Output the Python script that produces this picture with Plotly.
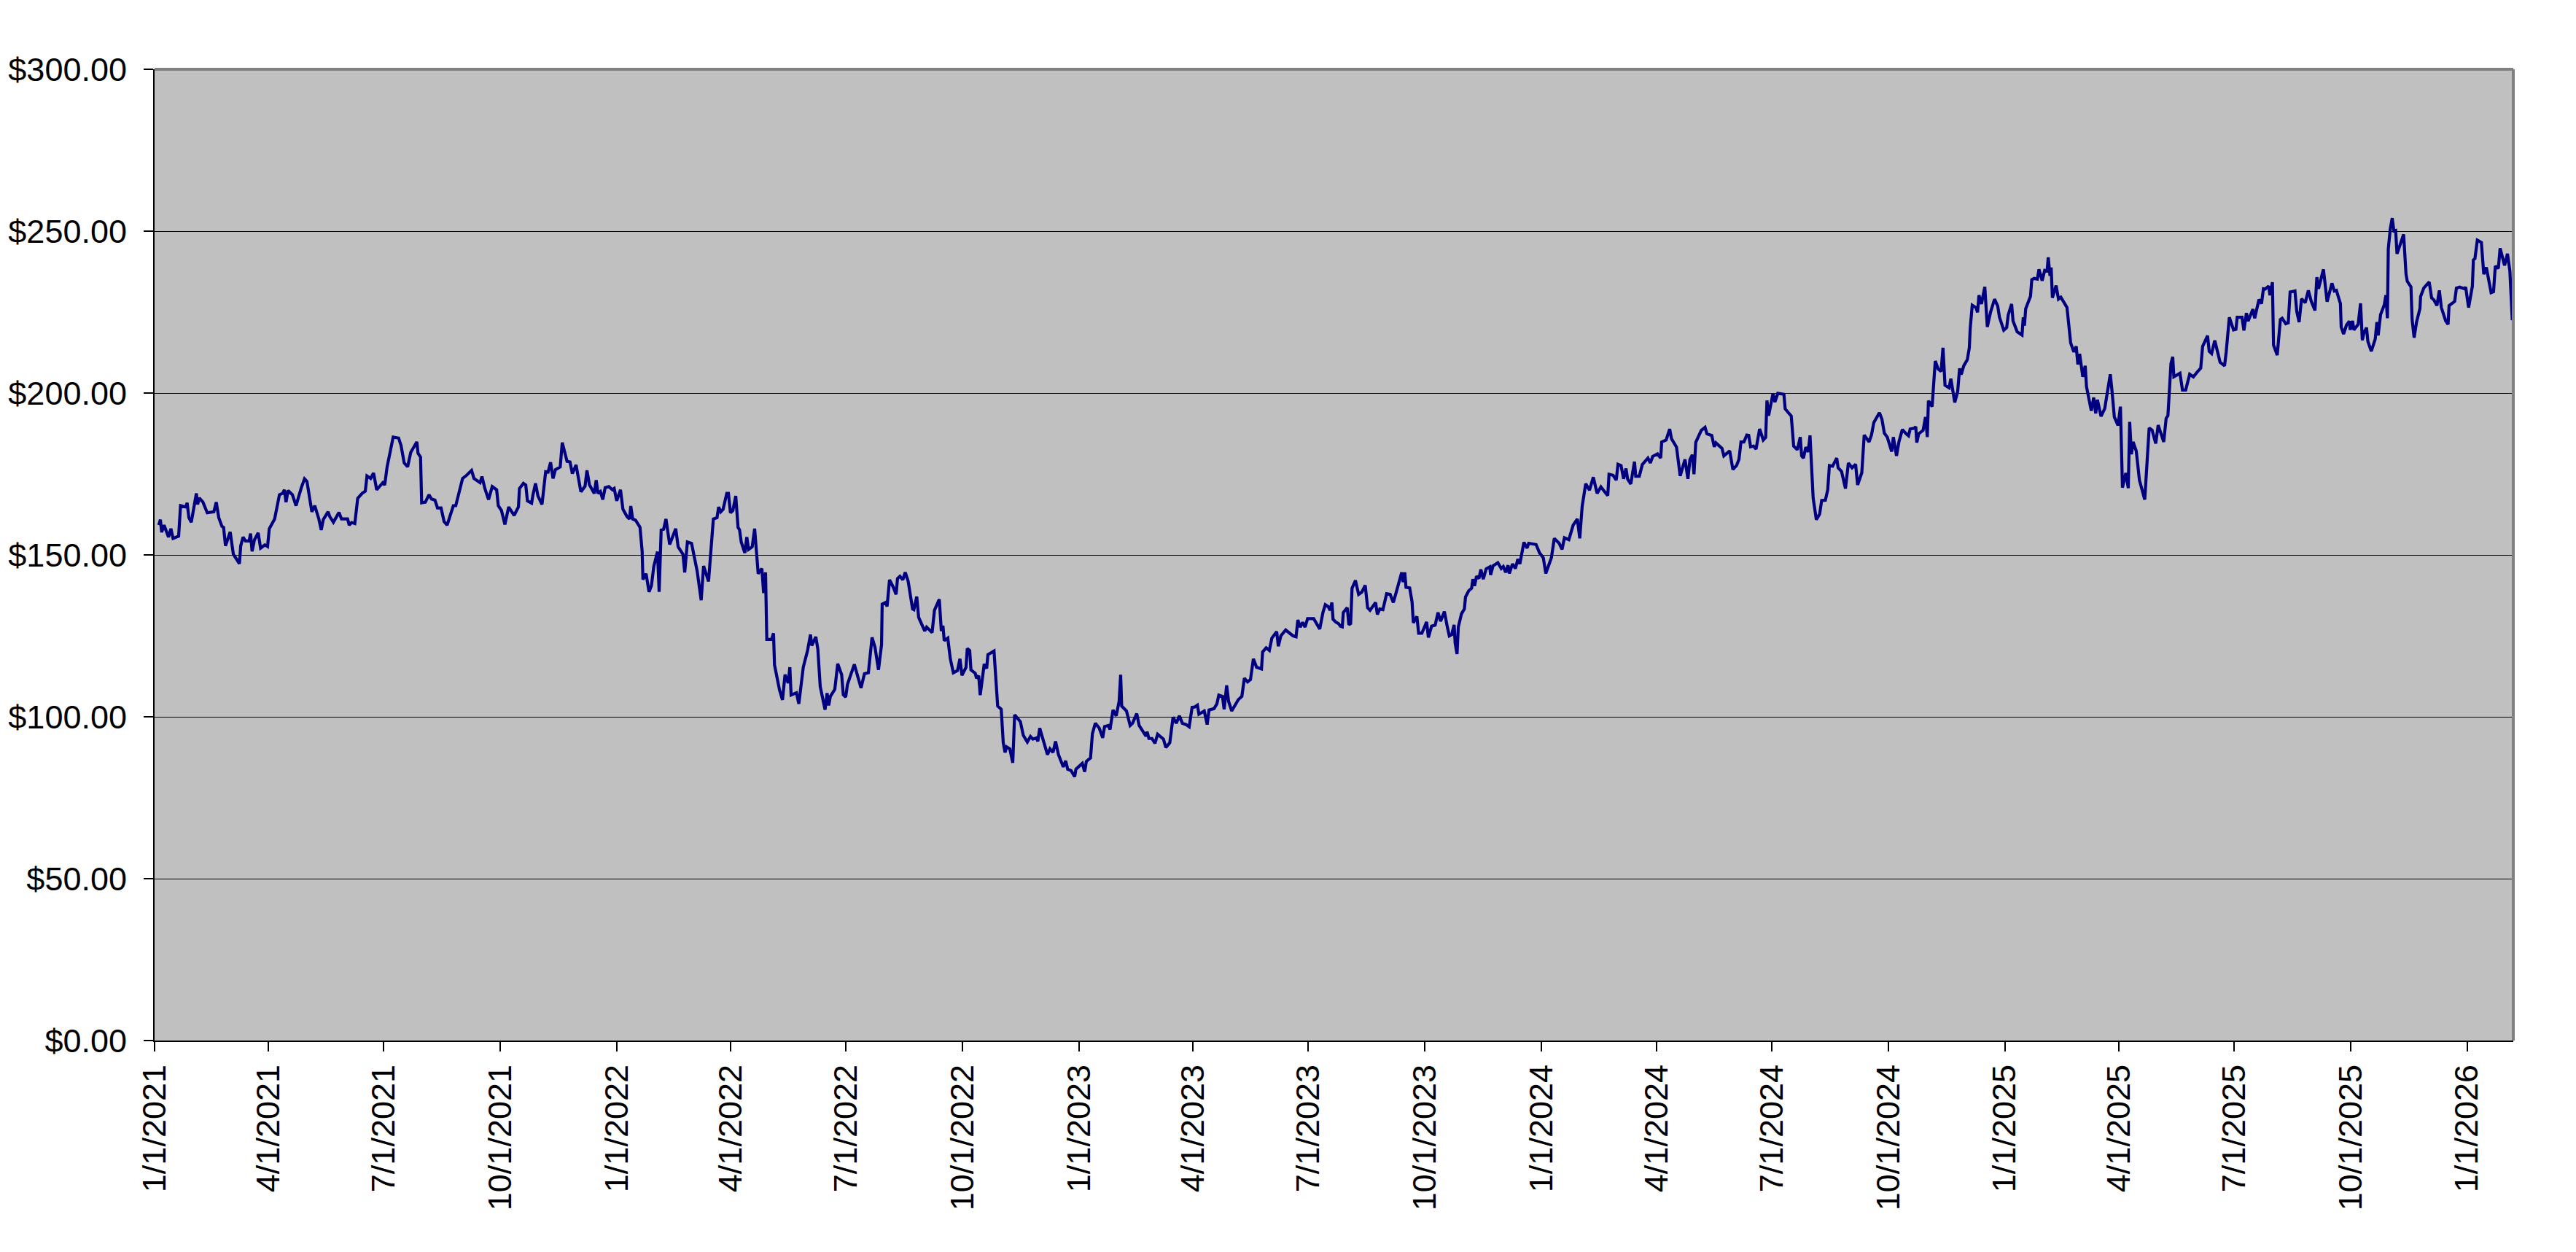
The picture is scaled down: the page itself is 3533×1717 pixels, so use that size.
import pandas as pd
import plotly.graph_objects as go

# x values are trading-day offsets (days since start_date); y values are closing prices in USD
start_date = "2021-01-01"
axis_end_day = 1862.4

days_2021 = [3.3, 4.6, 5.6, 7.5, 11.0, 12.9, 14.6, 19.0, 20.5, 24.7, 25.7, 27.1, 29.0, 33.0, 34.0, 35.3, 38.2, 41.6,
             46.8, 48.7, 50.7, 53.2, 54.5, 56.0, 59.7, 62.2, 64.7, 67.0, 68.0, 69.9, 71.8, 74.6, 75.8, 77.0, 78.9,
             81.8, 83.7, 87.1, 89.2, 90.6, 94.8, 96.7, 98.6, 101.1, 102.5, 103.8, 105.4, 108.8, 111.7, 115.9, 118.4,
             120.3, 124.2, 126.5, 129.7, 131.6, 133.2, 137.0, 138.4, 141.2, 145.6, 147.6, 152.4, 153.7, 155.6, 158.1,
             160.4, 163.9, 166.4, 167.7, 170.6, 172.9, 175.4, 180.2, 181.7, 183.6, 188.4, 192.7, 194.6, 197.1, 199.8,
             202.3, 207.1, 208.0, 210.0, 210.9, 213.8, 216.7, 218.6, 221.4, 223.4, 226.2, 228.6, 231.0, 235.9, 237.8,
             241.7, 243.2, 246.4, 250.3, 252.2, 257.0, 258.5, 260.8, 263.7, 266.6, 270.1, 271.4, 273.9, 276.6, 279.6,
             283.9, 287.3, 288.1, 291.2, 293.1, 294.4, 297.7, 298.8, 300.8, 302.7, 305.9, 308.8, 310.7, 312.7, 314.6,
             316.5, 320.3, 321.9, 323.2, 325.7, 328.0, 329.9, 332.8, 335.3, 336.6, 339.9, 341.4, 343.4, 347.2, 348.7,
             350.1, 352.0, 353.9, 355.8, 358.7, 361.6, 362.9, 364.9]
price_2021 = [159.2, 160.9, 157.0, 159.2, 155.5, 158.1, 155.1, 155.8, 165.2, 164.8, 166.1, 161.5, 160.1, 169.0, 165.6,
              167.6, 166.3, 163.0, 163.3, 166.3, 161.5, 158.8, 158.5, 152.8, 157.1, 150.2, 148.7, 147.3, 152.8, 155.5,
              154.3, 154.3, 156.6, 151.1, 154.7, 156.8, 152.1, 153.1, 152.6, 158.1, 161.1, 164.5, 168.6, 169.0, 170.1,
              166.3, 169.9, 168.6, 165.2, 170.8, 173.5, 172.7, 163.3, 165.2, 161.1, 157.7, 160.9, 163.3, 161.8, 160.1,
              163.1, 161.1, 161.1, 159.2, 160.0, 159.7, 167.5, 169.0, 169.7, 174.4, 173.6, 175.3, 170.1, 172.3, 171.6,
              177.2, 186.4, 186.1, 183.8, 178.4, 177.2, 181.7, 184.9, 181.4, 180.2, 166.1, 166.3, 168.6, 167.3, 166.9,
              164.5, 164.5, 160.3, 159.2, 165.2, 165.2, 170.8, 173.6, 174.6, 176.1, 173.6, 172.3, 174.2, 170.5, 167.1,
              171.1, 170.1, 165.2, 163.7, 159.4, 164.8, 162.2, 164.8, 170.5, 172.1, 171.6, 166.7, 166.0, 168.6, 172.1,
              168.2, 165.6, 175.7, 175.6, 178.6, 173.6, 176.3, 177.2, 184.7, 182.9, 178.9, 178.7, 175.1, 177.8, 172.0,
              169.5, 171.2, 176.1, 171.6, 169.0, 173.1, 169.0, 169.6, 167.1, 170.8, 171.1, 170.1, 170.5, 166.7]

days_2022 = [367.9, 369.8, 373.1, 375.0, 376.0, 377.5, 379.8, 383.3, 385.0, 385.6, 388.1, 390.4, 392.3, 394.2, 397.1,
             398.4, 400.0, 401.9, 403.8, 406.7, 411.5, 413.4, 417.2, 418.6, 420.7, 424.0, 425.9, 428.4, 431.6, 433.5,
             437.4, 441.2, 444.1, 445.4, 447.0, 448.9, 451.8, 453.1, 454.7, 456.6, 458.9, 460.7, 461.9, 463.2, 466.1,
             467.6, 469.0, 471.9, 473.8, 474.7, 476.6, 479.5, 480.9, 482.4, 483.4, 487.2, 488.7, 489.5, 492.0, 493.5,
             495.8, 497.8, 500.3, 501.6, 502.6, 506.8, 508.7, 512.2, 515.6, 517.9, 518.9, 522.1, 523.7, 525.6, 529.4,
             531.0, 532.3, 533.6, 537.1, 539.4, 542.5, 543.8, 545.7, 547.1, 552.5, 557.8, 560.5, 563.6, 566.5, 568.8,
             571.6, 574.0, 574.5, 577.0, 578.4, 580.3, 583.2, 585.5, 586.6, 588.5, 590.8, 592.7, 595.0, 598.5, 599.5,
             601.8, 603.3, 606.2, 608.1, 609.6, 613.9, 615.8, 619.6, 621.2, 622.5, 623.5, 626.3, 628.3, 630.7, 634.0,
             635.9, 637.5, 640.7, 641.7, 643.6, 644.6, 648.0, 649.0, 650.7, 651.9, 655.1, 657.0, 658.0, 662.8, 665.7,
             668.5, 670.1, 671.5, 672.8, 675.3, 677.6, 679.1, 681.1, 683.6, 685.9, 689.1, 691.6, 693.5, 696.4, 697.4,
             698.9, 701.2, 703.1, 705.0, 707.0, 709.4, 711.4, 713.7, 717.5, 719.4, 721.0, 723.6, 726.5, 727.5]
price_2022 = [170.1, 164.1, 161.8, 161.1, 165.1, 161.1, 160.7, 158.5, 151.0, 142.4, 144.2, 138.6, 140.5, 146.5, 151.0,
              138.6, 157.7, 157.9, 161.1, 153.2, 158.1, 152.5, 150.2, 144.6, 154.0, 153.6, 150.2, 145.0, 136.0, 146.6,
              141.8, 161.1, 161.5, 164.8, 163.3, 164.1, 169.0, 169.0, 163.0, 163.7, 168.2, 158.5, 157.7, 154.0, 150.6,
              155.5, 151.7, 152.5, 158.1, 153.2, 144.2, 145.8, 138.2, 144.6, 123.9, 123.9, 125.8, 116.0, 111.2, 108.2,
              105.2, 113.0, 110.4, 115.3, 106.7, 107.4, 104.0, 115.3, 120.5, 125.4, 122.0, 124.7, 120.9, 109.3, 102.2,
              107.3, 103.5, 106.3, 108.5, 116.4, 113.0, 106.8, 106.1, 110.0, 116.2, 108.9, 113.3, 113.6, 124.5, 121.5,
              114.5, 122.3, 134.8, 135.3, 134.1, 142.3, 140.1, 137.8, 142.7, 143.4, 142.3, 144.6, 141.9, 133.3, 133.1,
              137.1, 130.7, 128.4, 126.5, 127.7, 126.0, 132.9, 136.3, 126.5, 128.1, 123.5, 124.3, 117.9, 113.6, 114.3,
              117.9, 112.8, 115.3, 121.1, 120.5, 114.5, 113.4, 111.9, 112.7, 106.7, 116.3, 114.9, 119.2, 120.3, 103.3,
              102.3, 92.0, 89.0, 90.7, 90.1, 85.8, 100.6, 99.5, 98.5, 94.3, 92.2, 93.9, 93.1, 93.5, 92.4,
              96.5, 93.5, 91.3, 88.3, 90.1, 89.0, 92.4, 88.3, 84.5, 86.4, 83.8, 83.4, 81.5, 83.8]

days_2023 = [732.5, 734.4, 735.7, 739.0, 740.5, 742.8, 745.9, 748.6, 750.1, 753.0, 754.4, 756.8, 759.3, 761.6, 762.8,
             763.6, 767.4, 770.3, 772.2, 775.5, 777.4, 780.8, 782.8, 783.7, 785.1, 787.5, 789.9, 792.0, 794.3, 796.6,
             798.5, 801.6, 804.2, 806.7, 809.2, 811.5, 814.4, 816.9, 819.2, 821.1, 823.4, 824.6, 828.8, 831.1, 832.6,
             836.5, 838.8, 840.3, 843.2, 844.5, 846.5, 848.0, 850.5, 853.4, 855.7, 858.5, 860.5, 863.0, 865.3, 867.6,
             870.1, 874.0, 874.9, 877.7, 880.2, 882.2, 886.0, 887.3, 889.3, 893.1, 896.0, 898.9, 901.3, 902.7, 904.6,
             906.5, 908.4, 910.4, 915.2, 917.1, 920.0, 922.5, 924.4, 926.7, 928.2, 929.6, 930.5, 932.8, 934.8, 936.3,
             937.8, 938.6, 941.7, 943.0, 944.4, 945.5, 948.2, 950.7, 953.2, 955.9, 957.8, 959.7, 964.1, 965.5, 967.4,
             969.9, 970.8, 972.8, 975.6, 978.1, 980.4, 983.3, 984.7, 985.8, 987.1, 988.1, 991.0, 992.9, 993.9, 996.7,
             998.1, 1000.6, 1002.5, 1004.4, 1005.8, 1008.3, 1011.1, 1013.4, 1015.4, 1018.4, 1020.7, 1022.3, 1024.2,
             1026.1, 1026.9, 1028.4, 1029.4, 1031.9, 1034.2, 1035.1, 1037.6, 1039.9, 1040.9, 1042.2, 1043.8, 1045.7,
             1047.2, 1049.1, 1051.4, 1054.3, 1054.9, 1056.8, 1060.6, 1063.3, 1064.9, 1066.8, 1068.7, 1069.7, 1072.2,
             1074.5, 1076.4, 1078.0, 1081.2, 1083.7, 1085.0, 1090.8, 1093.6]
price_2023 = [85.6, 83.0, 86.2, 87.3, 94.8, 98.0, 96.5, 93.5, 97.0, 97.3, 96.1, 102.1, 100.3, 104.8, 113.0,
              103.3, 101.8, 97.3, 98.0, 101.0, 97.3, 95.0, 94.0, 95.4, 93.3, 93.3, 91.8, 94.6, 93.7, 93.1,
              90.5, 92.0, 99.9, 98.0, 100.3, 98.0, 97.6, 96.9, 102.9, 103.0, 103.6, 100.8, 101.8, 97.6, 102.1,
              102.5, 104.0, 106.7, 106.3, 102.3, 109.7, 104.8, 101.8, 103.6, 105.3, 106.3, 111.9, 110.8, 111.5, 117.9,
              115.3, 114.8, 120.0, 121.3, 120.5, 124.3, 126.3, 121.8, 125.0, 126.8, 125.8, 125.0, 124.7, 129.9, 127.7,
              129.2, 127.7, 130.3, 130.3, 129.0, 127.1, 132.2, 134.6, 134.0, 132.9, 135.3, 130.1, 129.2, 128.8, 128.0,
              127.8, 132.2, 133.7, 128.4, 128.8, 139.7, 142.1, 137.8, 138.5, 140.6, 133.7, 132.9, 135.3, 131.6, 133.3,
              133.1, 134.8, 138.0, 137.8, 135.3, 138.5, 143.1, 144.6, 141.6, 144.6, 140.0, 139.8, 135.5, 129.0, 131.0,
              125.8, 125.8, 127.8, 129.3, 124.5, 128.0, 128.3, 132.2, 129.5, 132.5, 127.8, 125.0, 125.4,
              128.4, 122.8, 119.4, 127.7, 131.8, 133.3, 137.0, 138.9, 139.7, 142.5, 140.4, 143.4, 142.7,
              145.5, 142.5, 145.7, 146.3, 143.8, 146.6, 147.6, 145.8, 146.4, 144.6, 146.8, 144.3, 147.2,
              145.8, 148.7, 147.2, 153.9, 152.1, 153.6, 153.2, 150.6]

days_2024 = [1096.5, 1098.5, 1102.9, 1105.2, 1109.0, 1111.3, 1113.2, 1116.7, 1120.1, 1123.4, 1125.3, 1127.2, 1130.0,
             1133.0, 1136.0, 1139.0, 1142.0, 1145.0, 1147.4, 1148.4, 1151.6, 1154.1, 1155.5, 1157.9, 1159.9, 1161.8,
             1163.1, 1165.6, 1168.5, 1169.5, 1172.3, 1174.7, 1179.1, 1181.0, 1182.9, 1186.7, 1189.2, 1190.0, 1193.5,
             1196.3, 1197.7, 1201.7, 1204.6, 1208.4, 1210.7, 1212.3, 1214.2, 1215.5, 1216.9, 1221.3, 1224.2, 1225.7,
             1229.5, 1231.5, 1232.8, 1237.6, 1239.1, 1243.7, 1246.2, 1249.1, 1251.0, 1252.6, 1254.9, 1257.2, 1258.7,
             1260.2, 1262.5, 1264.5, 1267.3, 1270.2, 1272.1, 1273.1, 1274.4, 1277.9, 1279.4, 1281.7, 1286.5, 1287.5,
             1292.3, 1294.2, 1297.1, 1299.4, 1300.5, 1301.9, 1303.8, 1305.7, 1307.1, 1309.6, 1312.1, 1314.7, 1316.3,
             1319.2, 1321.1, 1322.4, 1324.9, 1328.2, 1329.3, 1332.0, 1335.1, 1337.4, 1340.3, 1343.1, 1344.7, 1348.0,
             1349.9, 1353.7, 1355.6, 1357.5, 1361.9, 1363.9, 1365.8, 1368.1, 1371.6, 1372.9, 1375.4, 1377.3, 1380.0,
             1383.1, 1384.9, 1386.2, 1389.5, 1390.6, 1391.4, 1392.9, 1396.4, 1398.3, 1399.7, 1400.6, 1403.5, 1406.0,
             1408.3, 1410.6, 1412.1, 1413.7, 1416.9, 1418.3, 1421.4, 1423.7, 1425.2, 1426.5, 1428.5, 1431.3, 1432.9,
             1433.6, 1435.2, 1438.1, 1439.4, 1440.5, 1442.5, 1445.1, 1447.1, 1449.6, 1452.8, 1455.3, 1456.7, 1460.1]
price_2024 = [149.1, 144.3, 149.1, 155.1, 153.6, 151.7, 155.3, 154.7, 159.2, 161.1, 155.1, 165.0, 172.0,
              170.0, 174.0, 169.0, 171.0, 169.5, 168.3, 174.9, 174.6, 173.1, 178.0, 177.6, 173.5, 176.7,
              173.4, 171.9, 178.8, 174.3, 174.3, 177.9, 179.9, 178.4, 180.4, 181.2, 179.9, 184.9, 185.5,
              188.9, 185.9, 183.3, 174.4, 179.5, 173.5, 179.5, 180.9, 174.9, 184.8, 188.5, 189.4, 187.4,
              186.9, 183.4, 184.6, 182.9, 180.6, 182.1, 176.4, 177.6, 179.5, 184.9, 184.9, 187.0, 186.9,
              183.4, 183.6, 182.7, 188.9, 185.5, 186.3, 197.7, 193.0, 199.9, 197.2, 199.9, 199.6, 195.1,
              192.9, 183.6, 182.5, 186.4, 180.6, 179.9, 183.3, 181.8, 186.9, 167.5, 160.9, 162.6, 166.8,
              166.9, 170.1, 177.6, 177.4, 179.9, 176.9, 175.8, 170.5, 178.4, 176.9, 178.0, 171.6, 175.4,
              187.0, 184.9, 187.0, 190.9, 193.9, 191.9, 187.6, 186.4, 181.9, 186.4, 180.6, 184.9, 188.7,
              187.4, 186.8, 188.9, 189.1, 189.6, 184.7, 187.4, 188.5, 192.6, 186.4, 197.6, 195.8, 209.9,
              207.4, 206.7, 214.0, 202.4, 201.6, 204.4, 197.1, 200.5, 207.6, 205.7, 208.4, 210.3, 214.0,
              220.0, 227.1, 226.4, 224.9, 230.2, 227.5, 232.8, 220.4, 224.9, 229.0, 226.9, 223.4, 219.4]

days_2025 = [1462.4, 1463.6, 1466.3, 1467.4, 1470.7, 1474.5, 1475.5, 1476.4, 1477.4, 1481.2, 1482.2, 1484.1, 1486.6,
             1487.9, 1490.4, 1492.4, 1494.3, 1495.2, 1496.6, 1497.5, 1498.5, 1501.4, 1503.3, 1505.2, 1510.0, 1511.5,
             1512.9, 1515.4, 1517.3, 1518.6, 1520.0, 1522.5, 1524.4, 1525.4, 1529.2, 1531.1, 1532.7, 1534.0, 1536.9,
             1539.8, 1544.2, 1545.5, 1547.4, 1550.3, 1552.2, 1553.8, 1556.5, 1558.4, 1559.5, 1560.9, 1562.2, 1564.7,
             1567.2, 1571.4, 1574.9, 1577.2, 1580.1, 1582.0, 1586.4, 1588.3, 1589.7, 1592.1, 1593.5, 1594.4, 1599.2,
             1601.2, 1603.7, 1606.9, 1609.8, 1613.3, 1615.6, 1617.1, 1621.0, 1622.3, 1624.2, 1626.7, 1630.9, 1634.4,
             1635.7, 1638.2, 1641.5, 1643.4, 1644.4, 1648.2, 1649.7, 1651.7, 1653.0, 1656.8, 1658.2, 1661.6, 1663.6,
             1665.1, 1666.4, 1669.3, 1670.3, 1672.2, 1673.1, 1676.0, 1677.4, 1678.5, 1679.9, 1682.7, 1684.7, 1686.2,
             1690.0, 1691.4, 1693.3, 1695.2, 1698.1, 1700.6, 1702.9, 1705.8, 1707.3, 1708.6, 1712.5, 1714.4, 1715.4,
             1719.2, 1721.1, 1722.7, 1725.9, 1726.5, 1728.4, 1730.7, 1733.0, 1733.6, 1735.5, 1736.5, 1739.9, 1741.8,
             1743.2, 1744.5, 1746.5, 1747.6, 1750.3, 1753.4, 1754.7, 1755.7, 1757.6, 1760.5, 1761.8, 1763.0, 1763.7,
             1765.3, 1766.8, 1768.1, 1769.5, 1770.6, 1773.3, 1775.8, 1777.7, 1778.7, 1781.6, 1782.5, 1784.1, 1786.0,
             1788.7, 1789.2, 1791.7, 1796.0, 1797.9, 1799.8, 1802.1, 1804.0, 1805.6, 1809.0, 1810.9, 1811.7, 1816.1,
             1817.5, 1820.0, 1823.8, 1824.8]
price_2025 = [220.2, 224.1, 227.5, 222.3, 218.9, 217.9, 223.4, 220.8, 226.0, 229.9, 235.0, 235.4, 235.2,
              238.2, 234.7, 237.9, 237.7, 241.9, 236.2, 238.8, 229.4, 233.2, 229.0, 229.6, 226.4, 220.8,
              215.5, 212.7, 214.4, 208.8, 212.1, 205.0, 208.4, 202.0, 194.5, 198.6, 193.7, 197.9, 192.8,
              195.2, 205.8, 200.9, 192.6, 190.0, 195.8, 170.8, 175.3, 170.6, 191.1, 181.1, 184.9, 182.1,
              173.1, 167.1, 189.2, 188.5, 184.4, 190.1, 184.9, 192.2, 193.0, 209.1, 211.2, 205.0, 206.1,
              200.9, 200.9, 205.8, 205.0, 206.7, 207.7, 214.4, 217.7, 212.9, 212.2, 216.2, 209.5, 208.4,
              212.6, 223.4, 219.5, 219.7, 223.4, 223.4, 219.3, 224.7, 222.2, 225.9, 223.1, 228.9, 227.6,
              232.2, 232.1, 233.0, 230.2, 234.2, 214.8, 211.7, 217.8, 222.7, 223.1, 221.4, 221.7, 231.2,
              231.5, 225.3, 221.9, 229.1, 227.9, 231.7, 228.3, 225.5, 235.8, 232.2, 238.2, 230.2, 228.2,
              233.9, 231.5, 231.7, 227.6, 220.4, 218.2, 221.0, 222.2, 219.5, 222.3, 219.5, 221.2, 227.7,
              216.3, 218.6, 220.2, 215.9, 212.9, 216.7, 221.9, 217.8, 224.2, 227.2, 230.2, 223.1, 244.5,
              250.8, 254.0, 250.1, 250.2, 243.0, 246.3, 249.0, 236.7, 234.5, 232.8, 222.7, 217.1, 221.9,
              226.1, 229.8, 232.4, 234.3, 229.4, 228.7, 227.0, 231.7, 226.4, 222.3, 221.2, 227.0, 228.3,
              232.4, 232.7, 232.2, 232.7]

days_2026 = [1827.1, 1830.1, 1830.9, 1832.1, 1834.0, 1837.2, 1839.1, 1841.1, 1843.0, 1844.9, 1846.8, 1848.2, 1850.6,
             1852.0, 1855.5, 1857.8, 1859.7, 1861.6]
price_2026 = [226.4, 233.0, 241.1, 241.5, 247.2, 246.5, 236.7, 238.8, 235.1, 231.0, 231.3, 239.2, 238.5,
              244.7, 239.4, 243.0, 237.7, 222.5]

y_tick_values = [0, 50, 100, 150, 200, 250, 300]
y_tick_labels = ["$0.00", "$50.00", "$100.00", "$150.00", "$200.00", "$250.00", "$300.00"]

all_days = days_2021 + days_2022 + days_2023 + days_2024 + days_2025 + days_2026
all_prices = price_2021 + price_2022 + price_2023 + price_2024 + price_2025 + price_2026

start = pd.Timestamp(start_date)
dates = start + pd.to_timedelta(all_days, unit="D")
x_end = start + pd.to_timedelta(axis_end_day, unit="D")

FONT = "Arial, 'Liberation Sans', sans-serif"

fig = go.Figure(
    go.Scatter(
        x=dates,
        y=all_prices,
        mode="lines",
        line=dict(color="#000080", width=4.2),
        showlegend=False,
        hoverinfo="x+y",
    )
)

fig.update_layout(
    width=3533,
    height=1717,
    margin=dict(l=212, r=86, t=95, b=290, pad=0),
    paper_bgcolor="white",
    plot_bgcolor="#C0C0C0",
    font=dict(family=FONT, size=45, color="black"),
    shapes=[
        dict(type="line", xref="paper", yref="paper", x0=0, x1=1, y0=1, y1=1,
             line=dict(color="#808080", width=4), layer="above"),
        dict(type="line", xref="paper", yref="paper", x0=1, x1=1, y0=0, y1=1,
             line=dict(color="#808080", width=4), layer="above"),
    ],
)

fig.update_xaxes(
    type="date",
    range=[start, x_end],
    automargin=False,
    tickmode="linear",
    tick0=start_date,
    dtick="M3",
    tickformat="%-m/%-d/%Y",
    tickangle=-90,
    ticks="outside",
    ticklen=13,
    tickwidth=1.5,
    tickcolor="black",
    showgrid=False,
    zeroline=False,
    showline=True,
    linecolor="black",
    linewidth=2,
    tickfont=dict(family=FONT, size=45, color="black"),
)

fig.update_yaxes(
    range=[0, 300],
    automargin=False,
    tickmode="array",
    tickvals=y_tick_values,
    ticktext=y_tick_labels,
    ticks="outside",
    ticklen=13,
    tickwidth=1.5,
    tickcolor="black",
    ticklabelstandoff=14,
    showgrid=True,
    gridcolor="black",
    gridwidth=1.2,
    zeroline=False,
    showline=True,
    linecolor="black",
    linewidth=2,
    tickfont=dict(family=FONT, size=45, color="black"),
)

fig.write_html(
    "out.html",
    config={"displayModeBar": False},
    post_script="document.body.style.margin='0';document.body.style.overflow='hidden';",
)
